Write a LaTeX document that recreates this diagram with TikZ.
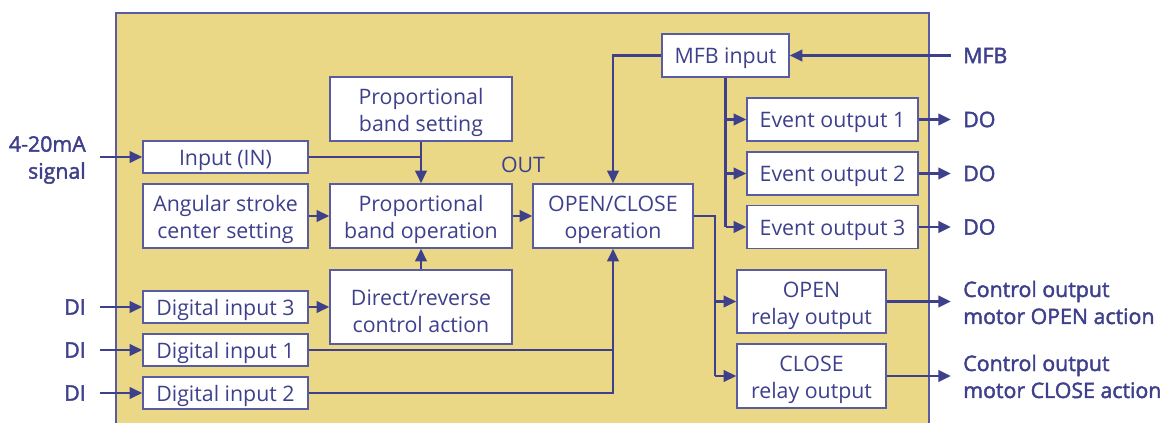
\documentclass[tikz,border=0pt]{standalone}
\usepackage{fontspec}
\setmainfont{Open Sans}
\newfontfamily\lblfont[FakeBold=2]{Open Sans}
\usetikzlibrary{arrows.meta}
\definecolor{panel}{RGB}{235,216,134}
\definecolor{ink}{RGB}{62,64,140}
\definecolor{edge}{RGB}{90,92,162}
\begin{document}
\begin{tikzpicture}[x=0.75pt,y=-0.75pt,text=ink,
		font=\fontsize{16}{20.25}\selectfont,
		blk/.style={draw=edge,line width=1pt,fill=white,align=center,inner sep=0pt,
			execute at begin node={\rule{0pt}{16.5pt}}},
		two/.style={execute at begin node={\rule{0pt}{38pt}}},
		lbl/.style={inner sep=0pt,font=\fontsize{16}{20.25}\selectfont\lblfont},
		wire/.style={draw=ink,line width=2.2pt},
		arr/.style={wire,-{Triangle[length=9.5pt,width=8.5pt]}}]
	\useasboundingbox (0,0) rectangle (1170,423);
	\fill[panel] (116,13) rectangle (929,423);
	\draw[edge,line width=1.2pt] (116,423)--(116,13)--(929,13)--(929,423);
	% left column
	\draw (225.5,157) node[blk,minimum width=123.75pt,minimum height=24pt] (in) {Input (IN)};
	\draw (225.5,216) node[blk,two,minimum width=123.75pt,minimum height=48pt] (ang) {Angular stroke\\center setting};
	\draw (225.5,307) node[blk,minimum width=123.75pt,minimum height=24pt] (di3) {Digital input 3};
	\draw (225.5,350) node[blk,minimum width=123.75pt,minimum height=24pt] (di1) {Digital input 1};
	\draw (225.5,393) node[blk,minimum width=123.75pt,minimum height=24pt] (di2) {Digital input 2};
	% middle column
	\draw (421,109) node[blk,two,minimum width=136.5pt,minimum height=48pt] (pbs) {Proportional\\band setting};
	\draw (421,216) node[blk,two,minimum width=136.5pt,minimum height=48pt] (pbo) {Proportional\\band operation};
	\draw (421,307) node[blk,two,minimum width=136.5pt,minimum height=55.5pt] (dir) {Direct/reverse\\control action};
	\draw (613,216) node[blk,two,minimum width=120pt,minimum height=48pt] (oc) {OPEN/CLOSE\\operation};
	\draw (523,165) node (out) {OUT};
	% right column
	\draw (725.5,55.5) node[blk,minimum width=95.25pt,minimum height=32.25pt] (mfb) {MFB input};
	\draw (832.5,119.5) node[blk,minimum width=128.25pt,minimum height=32.25pt] (ev1) {Event output 1};
	\draw (832.5,173.5) node[blk,minimum width=128.25pt,minimum height=32.25pt] (ev2) {Event output 2};
	\draw (832.5,227) node[blk,minimum width=128.25pt,minimum height=32.25pt] (ev3) {Event output 3};
	\draw (811.5,301.5) node[blk,two,minimum width=111.75pt,minimum height=47.25pt] (orly) {OPEN\\relay output};
	\draw (811.5,376) node[blk,two,minimum width=111.75pt,minimum height=48pt] (crly) {CLOSE\\relay output};
	% outside labels
	\draw (86,160) node[lbl,anchor=east,align=right] (sig) {4-20mA\\signal};
	\draw (86,307) node[lbl,anchor=east] (dil3) {DI};
	\draw (86,350) node[lbl,anchor=east] (dil1) {DI};
	\draw (86,393) node[lbl,anchor=east] (dil2) {DI};
	\draw (963,55.5) node[lbl,anchor=west] (mfbl) {MFB};
	\draw (963,119.5) node[lbl,anchor=west] (do1) {DO};
	\draw (963,173.5) node[lbl,anchor=west] (do2) {DO};
	\draw (963,227) node[lbl,anchor=west] (do3) {DO};
	\draw (963,302.5) node[lbl,anchor=west,align=left] (mopen) {Control output\\motor OPEN action};
	\draw (963,376.5) node[lbl,anchor=west,align=left] (mclose) {Control output\\motor CLOSE action};
	% free ends
	\coordinate (sigin) at (100,157);
	\coordinate (di3in) at (100,307);
	\coordinate (di1in) at (100,350);
	\coordinate (di2in) at (100,393);
	\coordinate (mfbin) at (951,55.5);
	\coordinate (do1out) at (951,119.5);
	\coordinate (do2out) at (951,173.5);
	\coordinate (do3out) at (951,227);
	\coordinate (mopenout) at (951,301.5);
	\coordinate (mcloseout) at (951,376);
	\coordinate (ocj) at (715,216);
	% inputs
	\draw[arr] (sigin) -- (in.west);
	\draw[arr] (di3in) -- (di3.west);
	\draw[arr] (di1in) -- (di1.west);
	\draw[arr] (di2in) -- (di2.west);
	\draw[wire] (in.east) -| (pbs.south);
	\draw[arr] (pbs.south) -- (pbo.north);
	\draw[arr] (ang.east) -- (pbo.west);
	\draw[arr] (di3.east) -- (dir.west);
	\draw[arr] (dir.north) -- (pbo.south);
	\draw[arr] (pbo.east) -- (oc.west);
	\draw[wire] (di1.east) -- (di1.east -| oc.south);
	\draw[arr] (di2.east) -| (oc.south);
	% feedback and events
	\draw[arr] (mfbin) -- (mfb.east);
	\draw[arr] (mfb.west) -| (oc.north);
	\draw[wire] (mfb.south) -- (mfb.south |- ev3.west);
	\draw[arr] (mfb.south |- ev1.west) -- (ev1.west);
	\draw[arr] (mfb.south |- ev2.west) -- (ev2.west);
	\draw[arr] (mfb.south |- ev3.west) -- (ev3.west);
	\draw[arr] (ev1.east) -- (do1out);
	\draw[arr] (ev2.east) -- (do2out);
	\draw[arr] (ev3.east) -- (do3out);
	% relay outputs
	\draw[wire] (oc.east) -- (ocj) -- (ocj |- crly.west);
	\draw[arr] (ocj |- orly.west) -- (orly.west);
	\draw[arr] (ocj |- crly.west) -- (crly.west);
	\draw[arr] (orly.east) -- (mopenout);
	\draw[arr] (crly.east) -- (mcloseout);
\end{tikzpicture}
\end{document}
